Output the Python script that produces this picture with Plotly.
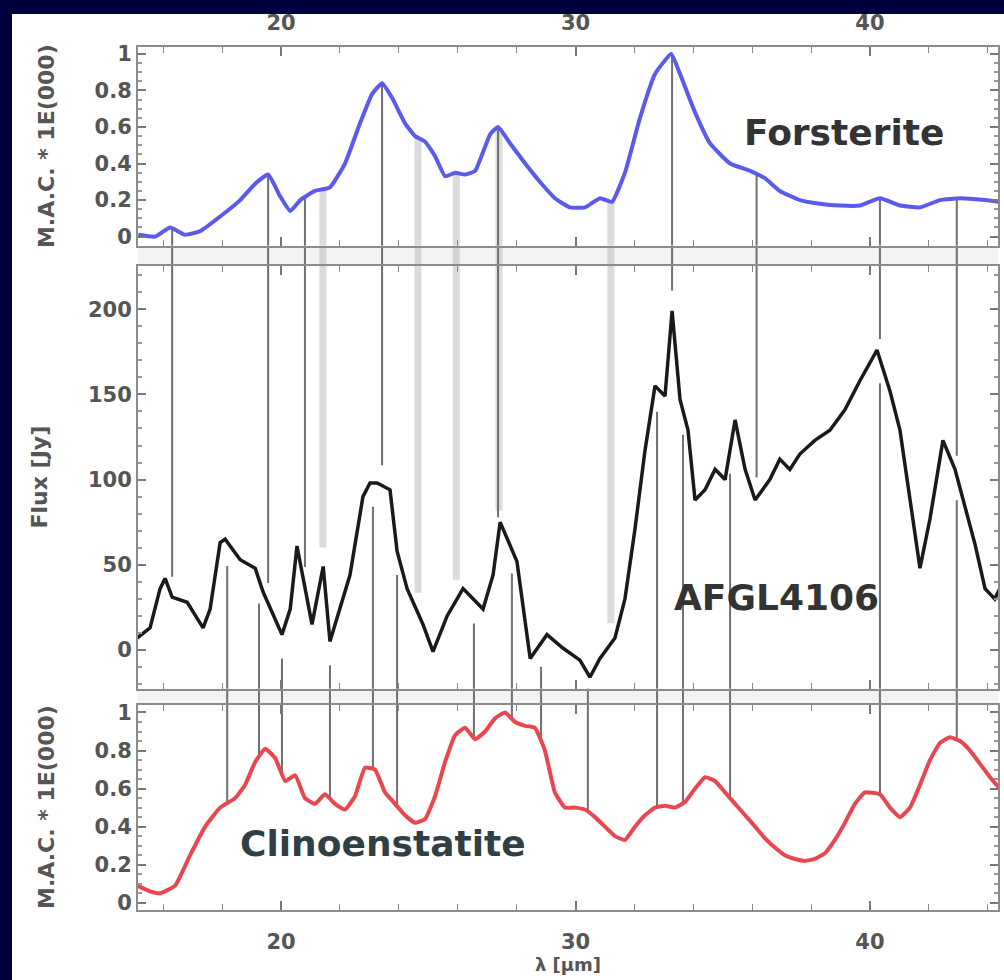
import numpy as np
import plotly.graph_objects as go

# ---------------- data ----------------
forst_wl = [15.15, 15.72, 16.23, 16.74, 17.25, 17.93, 18.61, 19.12, 19.56, 19.97, 20.31, 20.65,
            21.15, 21.66, 22.17, 22.68, 23.09, 23.43, 23.77, 24.21, 24.55, 24.89, 25.23, 25.57,
            25.91, 26.25, 26.59, 27.10, 27.37, 27.78, 28.29, 28.79, 29.30, 29.81, 30.32, 30.83,
            31.24, 31.68, 32.19, 32.70, 33.25, 33.55, 34.06, 34.57, 35.25, 35.93, 36.43, 36.94,
            37.62, 38.30, 38.98, 39.66, 40.34, 41.02, 41.70, 42.38, 43.06, 43.91, 44.41]
forst_mac = [0.01, 0.00, 0.05, 0.01, 0.03, 0.11, 0.20, 0.29, 0.34, 0.22, 0.14, 0.20,
             0.25, 0.27, 0.40, 0.62, 0.78, 0.84, 0.76, 0.62, 0.55, 0.52, 0.44, 0.33,
             0.35, 0.34, 0.36, 0.56, 0.60, 0.51, 0.40, 0.30, 0.21, 0.16, 0.16, 0.21,
             0.19, 0.35, 0.65, 0.89, 1.00, 0.89, 0.68, 0.51, 0.40, 0.36, 0.32, 0.25,
             0.20, 0.18, 0.17, 0.17, 0.21, 0.17, 0.16, 0.20, 0.21, 0.20, 0.19]

afgl_wl = [15.11, 15.55, 15.89, 16.06, 16.30, 16.81, 17.35, 17.59, 17.93, 18.10, 18.61, 19.12,
           19.39, 20.03, 20.31, 20.54, 21.05, 21.43, 21.66, 22.34, 22.78, 23.02, 23.26, 23.70,
           23.94, 24.28, 24.82, 25.16, 25.64, 26.18, 26.86, 27.20, 27.44, 28.01, 28.46, 29.03,
           29.58, 30.15, 30.49, 30.83, 31.34, 31.68, 32.02, 32.36, 32.70, 33.04, 33.28, 33.55,
           33.82, 34.06, 34.40, 34.74, 35.08, 35.42, 35.76, 36.10, 36.60, 36.94, 37.28, 37.62,
           38.13, 38.64, 39.15, 39.66, 40.24, 40.68, 41.02, 41.36, 41.70, 42.04, 42.48, 42.89,
           43.23, 43.57, 43.91, 44.24, 44.41]
afgl_flux = [7, 13, 36, 42, 31, 28, 13, 24, 63, 65, 53, 48,
             34, 9, 24, 61, 15, 49, 5, 44, 90, 98, 98, 94,
             58, 36, 15, -1, 20, 36, 24, 44, 75, 52, -5, 9,
             1, -6, -16, -5, 7, 30, 71, 117, 155, 149, 199, 147,
             129, 88, 94, 106, 100, 135, 106, 88, 100, 112, 106, 115,
             123, 129, 141, 158, 176, 152, 129, 88, 48, 77, 123, 106,
             83, 62, 36, 30, 36]

clino_wl = [15.11, 15.55, 15.89, 16.40, 16.91, 17.42, 17.93, 18.44, 18.78, 19.12, 19.46, 19.80,
            20.14, 20.48, 20.81, 21.15, 21.49, 21.83, 22.17, 22.51, 22.85, 23.19, 23.53, 23.87,
            24.21, 24.55, 24.89, 25.23, 25.57, 25.91, 26.25, 26.59, 26.93, 27.27, 27.61, 27.95,
            28.29, 28.62, 28.96, 29.30, 29.64, 29.98, 30.32, 30.66, 31.00, 31.34, 31.68, 32.02,
            32.36, 32.70, 33.04, 33.38, 33.72, 34.06, 34.40, 34.74, 35.08, 35.42, 35.76, 36.10,
            36.43, 36.77, 37.11, 37.45, 37.79, 38.13, 38.47, 38.81, 39.15, 39.49, 39.83, 40.34,
            40.68, 41.02, 41.36, 41.70, 42.04, 42.38, 42.72, 43.06, 43.40, 43.74, 44.08, 44.41]
clino_mac = [0.09, 0.06, 0.05, 0.09, 0.25, 0.40, 0.50, 0.55, 0.62, 0.74, 0.81, 0.76,
             0.64, 0.67, 0.55, 0.52, 0.57, 0.52, 0.49, 0.56, 0.71, 0.70, 0.58, 0.52,
             0.46, 0.42, 0.44, 0.56, 0.74, 0.88, 0.92, 0.86, 0.90, 0.97, 1.00, 0.95,
             0.93, 0.92, 0.80, 0.58, 0.50, 0.50, 0.49, 0.45, 0.40, 0.35, 0.33, 0.40,
             0.46, 0.50, 0.51, 0.50, 0.53, 0.60, 0.66, 0.64, 0.58, 0.52, 0.46, 0.40,
             0.34, 0.29, 0.25, 0.23, 0.22, 0.23, 0.26, 0.33, 0.42, 0.52, 0.58, 0.57,
             0.50, 0.45, 0.50, 0.62, 0.75, 0.84, 0.87, 0.85, 0.80, 0.73, 0.66, 0.60]

# feature positions (micron)
forst_lines_strong = [16.3, 19.56, 20.81, 23.43, 27.37, 33.28, 36.15, 40.34, 42.95]
forst_lines_weak = [21.42, 24.65, 25.95, 27.4, 31.2]
clino_lines = [18.17, 19.25, 20.03, 21.66, 23.12, 23.94, 26.55, 27.84, 28.83, 30.42,
               32.77, 33.65, 35.25, 40.34, 42.95]

x_ticks = [20, 30, 40]
mac_ticks = [0, 0.2, 0.4, 0.6, 0.8, 1]
mac_ticktext = ["0", "0.2", "0.4", "0.6", "0.8", "1"]
flux_ticks = [0, 50, 100, 150, 200]

# ---------------- layout geometry ----------------
W, H = 1004, 980
def py(p):
    return 1 - p / H

xr = [15.14, 44.35]
xdom = [138 / W, 998 / W]
top_dom = [py(244), py(43)]
mid_dom = [py(691), py(264)]
bot_dom = [py(914), py(707)]
top_rng = [-0.05, 1.04]
mid_rng = [-22.7, 225.6]
bot_rng = [-0.036, 1.042]

NAVY = "#00003c"
AXC = "#8c8c8c"
TXT = "#555555"
FONT = "DejaVu Sans"

fig = go.Figure()

shapes = []
# navy frame on the left and top
shapes.append(dict(type="rect", xref="paper", yref="paper", x0=-0.01, x1=12 / W, y0=-0.01, y1=1.01,
                   fillcolor=NAVY, line_width=0, layer="below"))
shapes.append(dict(type="rect", xref="paper", yref="paper", x0=-0.01, x1=1.01, y0=py(10), y1=1.01,
                   fillcolor=NAVY, line_width=0, layer="below"))
# faint gap bands between panels
shapes.append(dict(type="rect", xref="paper", yref="paper", x0=xdom[0], x1=xdom[1],
                   y0=top_dom[0], y1=mid_dom[1], fillcolor="#f2f2f7", line_width=0, layer="below"))
shapes.append(dict(type="rect", xref="paper", yref="paper", x0=xdom[0], x1=xdom[1],
                   y0=mid_dom[0], y1=bot_dom[1], fillcolor="#f3f3f5", line_width=0, layer="below"))

def add_vline(f, y0, y1, yref, color, width):
    shapes.append(dict(type="line", xref="x", yref=yref, x0=f, x1=f, y0=y0, y1=y1,
                       line=dict(color=color, width=width), layer="below"))

DARK = "#707070"
LIGHT = "rgba(175,175,175,0.45)"

for group, color, width in [(forst_lines_weak, LIGHT, 7), (forst_lines_strong, DARK, 2)]:
    for f in group:
        v = float(np.interp(f, forst_wl, forst_mac))
        add_vline(f, top_rng[0], v, "y", color, width)
        shapes.append(dict(type="line", xref="x", yref="paper", x0=f, x1=f, y0=mid_dom[1], y1=top_dom[0],
                           line=dict(color=color, width=width), layer="below"))
        fl = float(np.interp(f, afgl_wl, afgl_flux)) + 12
        add_vline(f, mid_rng[1], fl, "y2", color, width)

for f in clino_lines:
    v = float(np.interp(f, clino_wl, clino_mac))
    add_vline(f, v, bot_rng[1], "y3", DARK, 2)
    shapes.append(dict(type="line", xref="x", yref="paper", x0=f, x1=f, y0=bot_dom[1], y1=mid_dom[0],
                       line=dict(color=DARK, width=2), layer="below"))
    fl = max(float(np.interp(f, afgl_wl, afgl_flux)) - 14, mid_rng[0])
    add_vline(f, mid_rng[0], fl, "y2", DARK, 2)

# ---------------- traces ----------------
fig.add_trace(go.Scatter(x=forst_wl, y=forst_mac, mode="lines", xaxis="x3", yaxis="y",
                         line=dict(color="#5a5aee", width=4, shape="spline", smoothing=0.4),
                         showlegend=False))
fig.add_trace(go.Scatter(x=afgl_wl, y=afgl_flux, mode="lines", xaxis="x2", yaxis="y2",
                         line=dict(color="#1a1a1a", width=3.5), showlegend=False))
fig.add_trace(go.Scatter(x=clino_wl, y=clino_mac, mode="lines", xaxis="x", yaxis="y3",
                         line=dict(color="#e8474f", width=4, shape="spline", smoothing=0.4),
                         showlegend=False))

tickfont = dict(family=FONT, size=21, color=TXT, weight="bold")
common_x = dict(range=xr, domain=xdom, showline=True, linecolor=AXC, linewidth=2, mirror="ticks",
                ticks="inside", ticklen=9, tickwidth=1.5, tickcolor="#777", tickvals=x_ticks,
                minor=dict(dtick=2, ticks="inside", ticklen=6, tickcolor="#888", tickwidth=1.2),
                showgrid=False, zeroline=False, tickfont=tickfont)
common_y = dict(showline=True, linecolor=AXC, linewidth=2, mirror="ticks", ticks="inside",
                ticklen=8, tickwidth=1.5, tickcolor="#777", showgrid=False, zeroline=False,
                tickfont=tickfont)

title_font = dict(family=FONT, size=22, color=TXT, weight="bold")
fig.update_layout(
    width=W, height=H, margin=dict(l=0, r=0, t=0, b=0),
    paper_bgcolor="white", plot_bgcolor="rgba(0,0,0,0)",
    shapes=shapes,
    xaxis=dict(**common_x, anchor="y3", side="bottom", ticklabelstandoff=12,
               title=dict(text="λ [μm]", font=dict(family=FONT, size=18, color=TXT, weight="bold"),
                          standoff=2)),
    xaxis2=dict(**common_x, anchor="y2", matches="x", showticklabels=False),
    xaxis3=dict(**common_x, anchor="y", matches="x", side="top", ticklabelstandoff=6),
    yaxis=dict(**common_y, domain=top_dom, range=top_rng, tickvals=mac_ticks, ticktext=mac_ticktext,
               minor=dict(dtick=0.05, ticks="inside", ticklen=4, tickcolor="#999"),
               title=dict(text="M.A.C. * 1E(000)", font=title_font, standoff=34)),
    yaxis2=dict(**common_y, domain=mid_dom, range=mid_rng, tickvals=flux_ticks,
                minor=dict(dtick=10, ticks="inside", ticklen=4, tickcolor="#999"),
                title=dict(text="Flux [Jy]", font=title_font, standoff=34)),
    yaxis3=dict(**common_y, domain=bot_dom, range=bot_rng, tickvals=mac_ticks, ticktext=mac_ticktext,
                minor=dict(dtick=0.05, ticks="inside", ticklen=4, tickcolor="#999"),
                title=dict(text="M.A.C. * 1E(000)", font=title_font, standoff=34)),
)

lab = dict(family=FONT, size=36, color="#333333", weight="bold")
fig.add_annotation(x=39.12, y=0.57, xref="x3", yref="y", text="Forsterite", showarrow=False, font=lab)
fig.add_annotation(x=36.81, y=31, xref="x2", yref="y2", text="AFGL4106", showarrow=False, font=lab)
fig.add_annotation(x=23.46, y=0.31, xref="x", yref="y3", text="Clinoenstatite", showarrow=False,
                   font=dict(family=FONT, size=36, color="#2f3f44", weight="bold"))

fig.write_html("out.html")
